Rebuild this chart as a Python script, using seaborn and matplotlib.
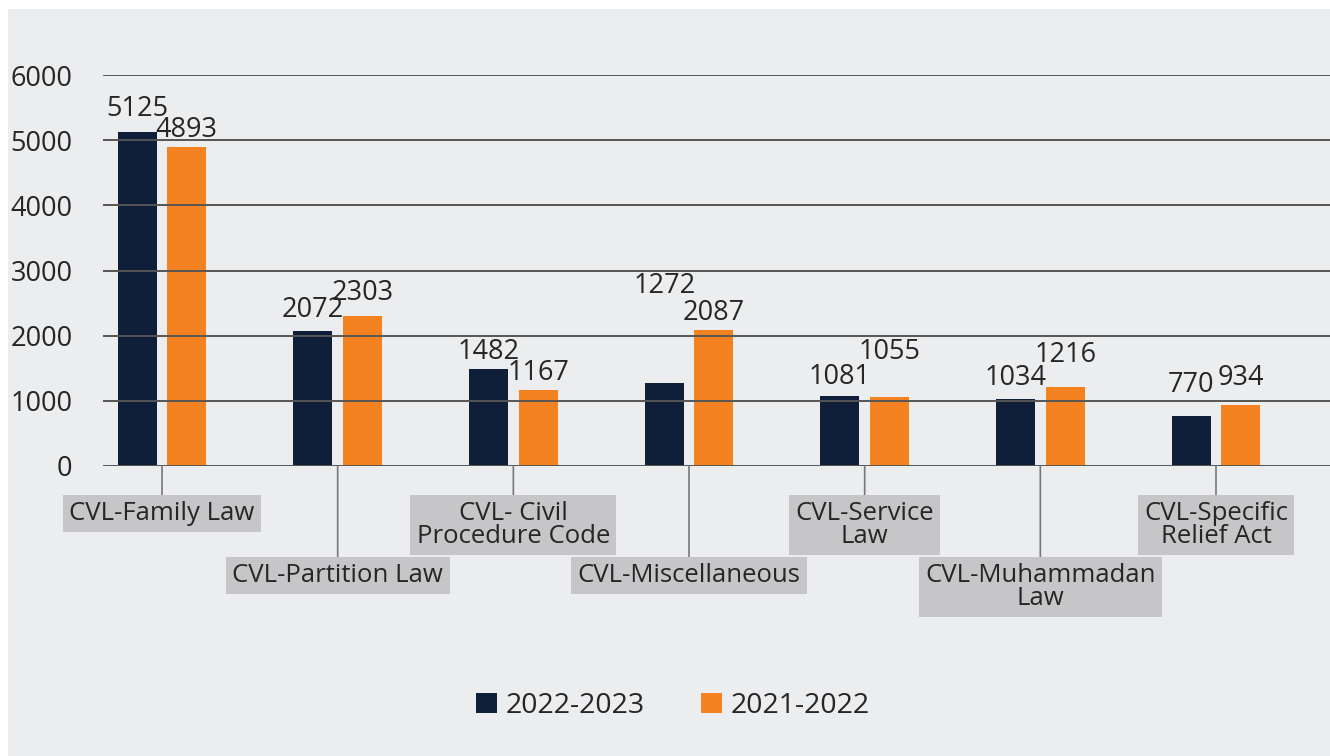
import matplotlib
matplotlib.use("Agg")
import matplotlib.pyplot as plt
import seaborn as sns
import pandas as pd
from matplotlib.patches import Rectangle, Patch

# ---- data ----
categories = [
    "CVL-Family Law",
    "CVL-Partition Law",
    "CVL- Civil\nProcedure Code",
    "CVL-Miscellaneous",
    "CVL-Service\nLaw",
    "CVL-Muhammadan\nLaw",
    "CVL-Specific\nRelief Act",
]
series_names = ["2022-2023", "2021-2022"]
values_2022_2023 = [5125, 2072, 1482, 1272, 1081, 1034, 770]
values_2021_2022 = [4893, 2303, 1167, 2087, 1055, 1216, 934]
y_ticks = [0, 1000, 2000, 3000, 4000, 5000, 6000]

# ---- style ----
NAVY = "#0F1F3A"
ORANGE = "#F58220"
BG = "#ECEDEF"
TEXT = "#262626"
BOX = "#C6C6C8"
FS = 19.5
# extra lift (pixels) of individual value labels, as laid out in the reference
lift_a = [6, 4, 0, 80, 2, 4, 14]
lift_b = [0, 6, 0, 0, 28, 15, 10]

plt.rcParams["font.family"] = ["Open Sans", "DejaVu Sans"]

df = pd.DataFrame({
    "category": categories * 2,
    "period": [series_names[0]] * len(categories) + [series_names[1]] * len(categories),
    "value": values_2022_2023 + values_2021_2022,
})

W, H = 1330, 756
fig = plt.figure(figsize=(W / 100, H / 100), dpi=100, facecolor="white")
fig.patches.append(Rectangle((8 / W, 0), 1 - 8 / W, (H - 9) / H,
                             transform=fig.transFigure, facecolor=BG,
                             edgecolor="none", zorder=-10))

ax = fig.add_axes([103 / W, 290 / H, 1 - 103 / W, 391 / H])
ax.set_facecolor("none")

sns.barplot(data=df, x="category", y="value", hue="period",
            order=categories, hue_order=series_names,
            palette=[NAVY, ORANGE], width=0.5636, gap=0.212,
            saturation=1, legend=False, ax=ax)

ax.set_xlim(-0.336, 6.649)
ax.set_ylim(0, 6000)
ax.set_yticks(y_ticks)
ax.set_yticklabels([str(t) for t in y_ticks])
ax.set_xlabel("")
ax.set_ylabel("")
ax.set_xticks([])
for s in ax.spines.values():
    s.set_visible(False)
ax.set_axisbelow(False)
ax.yaxis.grid(True, color="#555555", lw=1.4)
ax.xaxis.grid(False)
ax.tick_params(axis="y", length=0, pad=22, labelsize=19.5, labelcolor=TEXT)

# value labels
for cont, vals, lifts in zip(ax.containers,
                             [values_2022_2023, values_2021_2022],
                             [lift_a, lift_b]):
    for bar, v, lf in zip(cont, vals, lifts):
        ax.annotate(str(v), xy=(bar.get_x() + bar.get_width() / 2, bar.get_height()),
                    xytext=(0, 3 + lf), textcoords="offset pixels",
                    ha="center", va="bottom", fontsize=FS, color=TEXT)

# category label boxes with leader lines
for i, cat in enumerate(categories):
    off = -35 if i % 2 == 0 else -97
    ax.annotate(cat, xy=(i, 0), xycoords="data",
                xytext=(0, off), textcoords="offset pixels",
                ha="center", va="top", fontsize=18.5, color=TEXT,
                linespacing=0.88, multialignment="center",
                bbox=dict(boxstyle="square,pad=0.25", fc=BOX, ec="none"),
                arrowprops=dict(arrowstyle="-", color="#777777", lw=1.2,
                                shrinkA=0, shrinkB=0),
                annotation_clip=False)

handles = [Patch(facecolor=NAVY), Patch(facecolor=ORANGE)]
fig.legend(handles, series_names, loc="center",
           bbox_to_anchor=(673 / W, 1 - 706 / H), ncol=2, frameon=False,
           fontsize=20.5, handlelength=0.72, handleheight=0.72,
           handletextpad=0.3, columnspacing=2.0, labelcolor=TEXT)

fig.savefig("out.png", dpi=100, facecolor=fig.get_facecolor())
